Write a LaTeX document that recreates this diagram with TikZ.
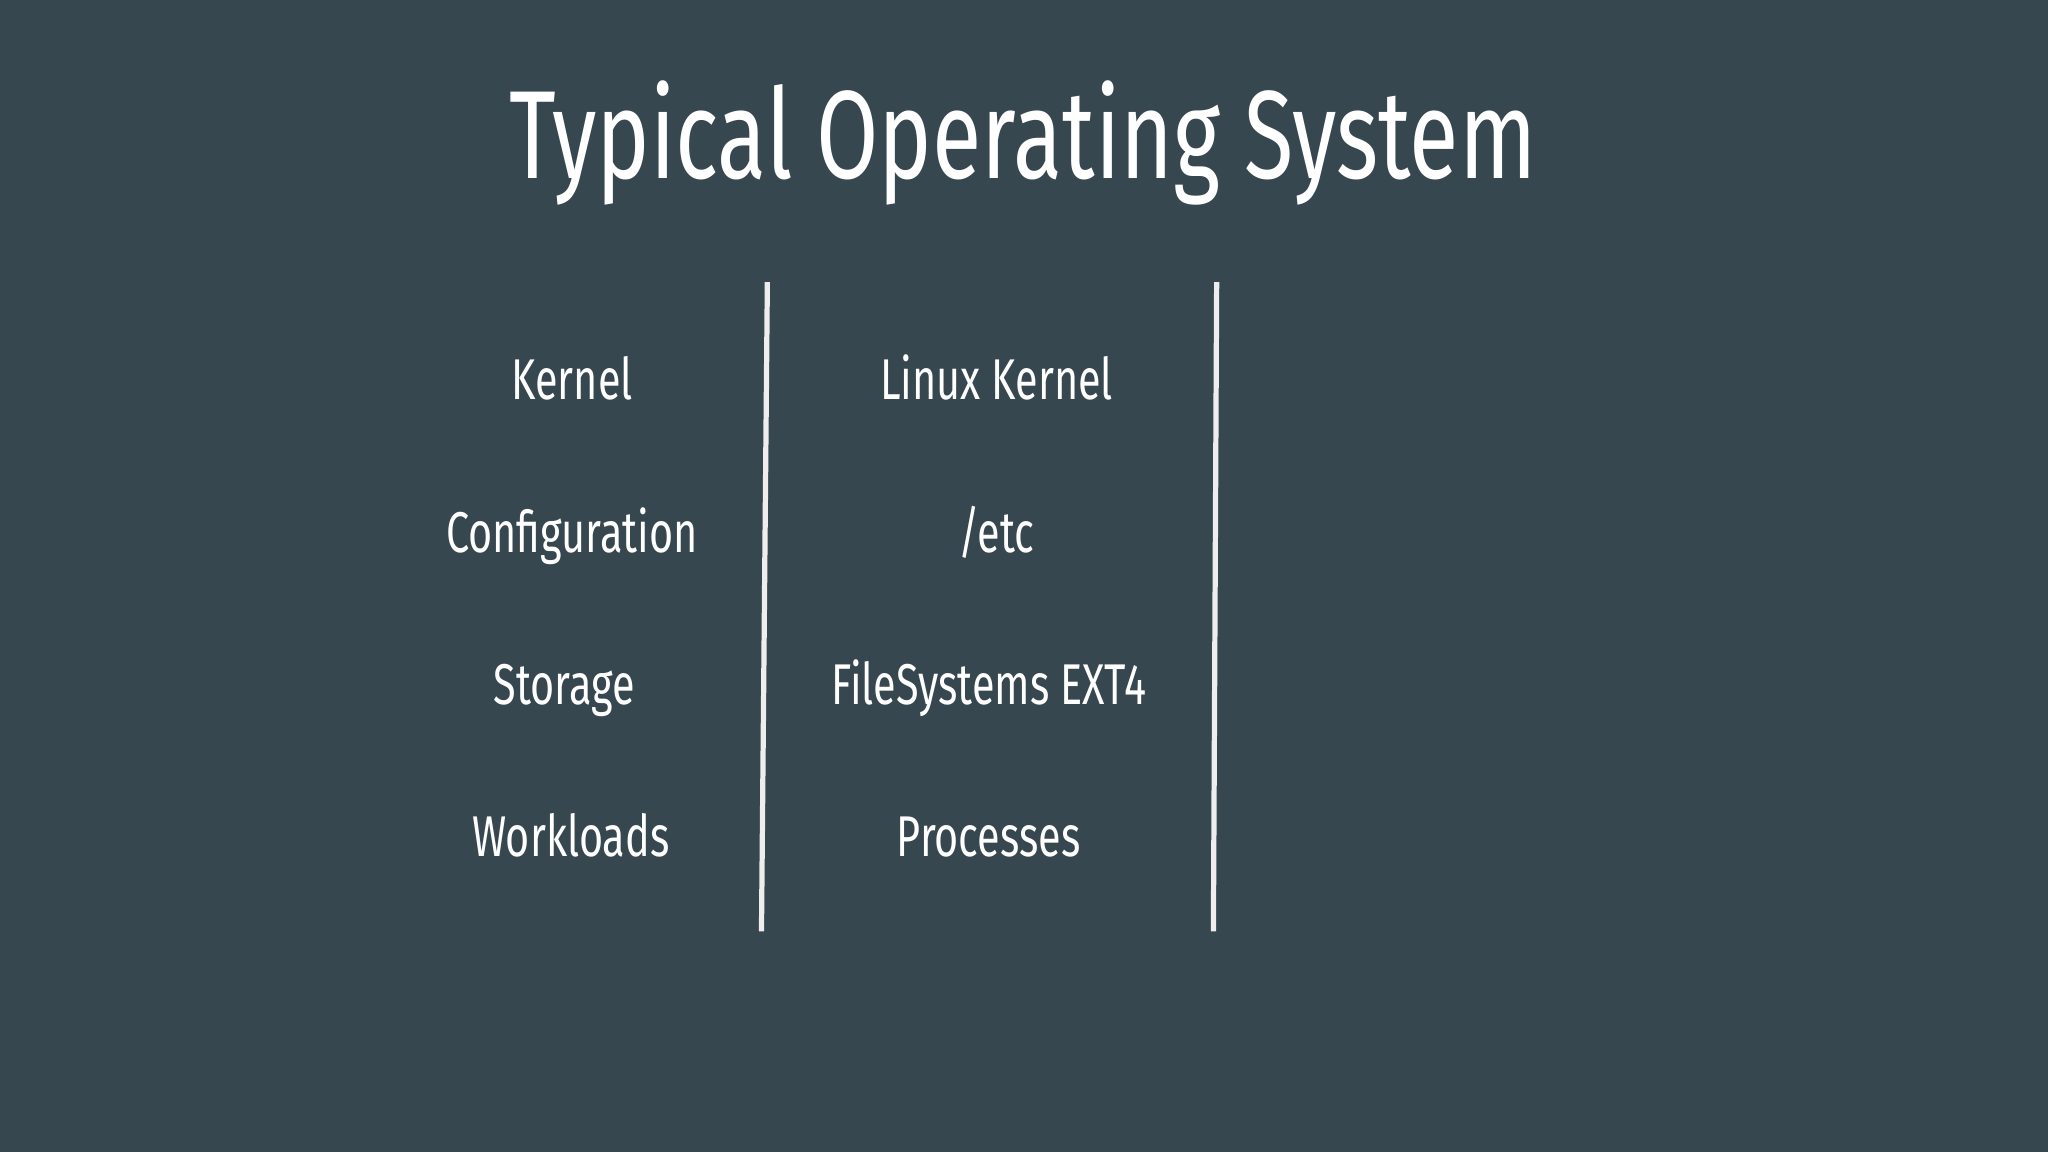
\documentclass[tikz,border=0pt]{standalone}
\usepackage{fontspec}
\setmainfont{Fira Sans}[FakeStretch=0.72]
\definecolor{bg}{HTML}{37474F}
\definecolor{ln}{HTML}{EEEEEE}
\begin{document}
\begin{tikzpicture}[x=1pt,y=-1pt,
  lbl/.style={text=white,font=\fontsize{44}{48}\selectfont,inner sep=0pt,anchor=base},
  sep/.style={draw=ln,line width=4pt}]
\fill[bg] (0,0) rectangle (1568,882);
\useasboundingbox (0,0) rectangle (1568,882);
\node[text=white,font=\fontsize{96}{100}\selectfont,inner sep=0pt,anchor=base] (title) at (783,137) {Typical Operating System};
\node[lbl] (k) at (438,306) {Kernel};
\node[lbl] (c) at (438,423) {Configuration};
\node[lbl] (s) at (432,539) {Storage};
\node[lbl] (w) at (437,656) {Workloads};
\node[lbl] (lk) at (763,306) {Linux Kernel};
\node[lbl] (e) at (763,423) {/etc};
\node[lbl] (f) at (757,539) {FileSystems EXT4};
\node[lbl] (p) at (757,656) {Processes};
\coordinate (a1) at (587.5,216); \coordinate (a2) at (583,713);
\coordinate (b1) at (931.5,216); \coordinate (b2) at (929,713);
\draw[sep] (a1) -- (a2);
\draw[sep] (b1) -- (b2);
\end{tikzpicture}
\end{document}
